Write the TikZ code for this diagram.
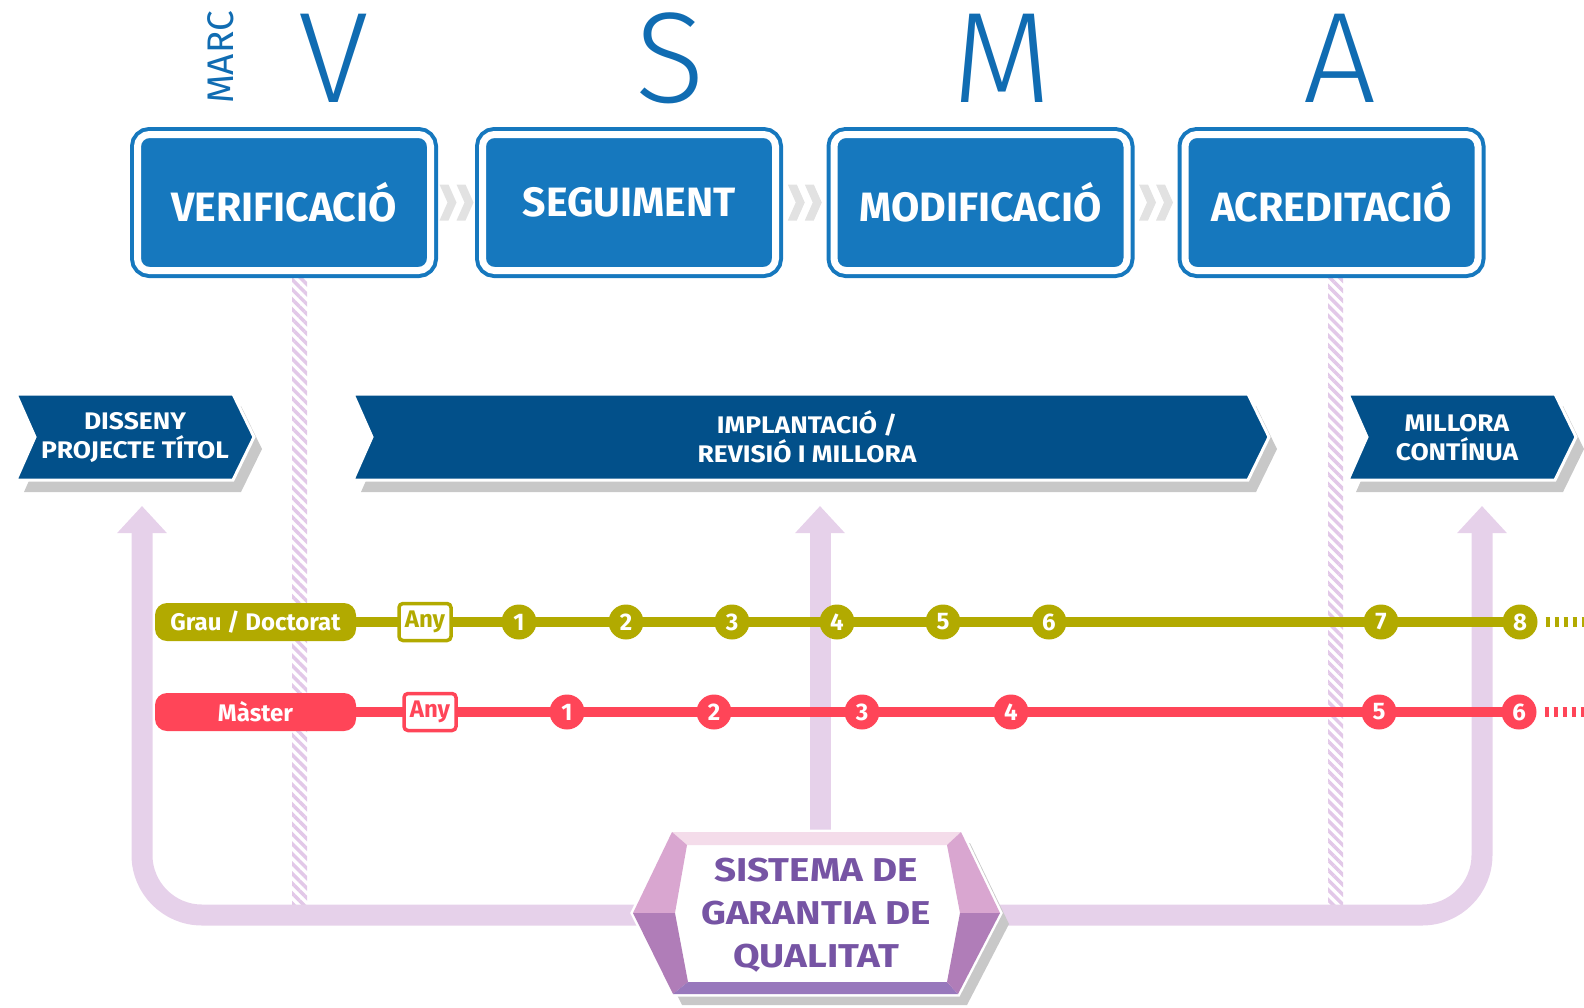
\documentclass[tikz,border=0pt]{standalone}
\usepackage{fontspec}
\setmainfont{Fira Sans}
\newfontfamily\thinfont{Fira Sans Light}
\newfontfamily\widefont{Fira Sans}[FakeStretch=1.1]
\newfontfamily\widerfont{Fira Sans}[FakeStretch=1.17]
\usetikzlibrary{positioning, arrows.meta, patterns.meta, calc}
\definecolor{boxblue}{RGB}{22,120,190}
\definecolor{letterblue}{RGB}{16,108,178}
\definecolor{bannerblue}{RGB}{2,80,138}
\definecolor{grauolive}{RGB}{178,170,0}
\definecolor{masterred}{RGB}{255,69,88}
\definecolor{lilac}{RGB}{230,209,234}
\definecolor{hatchlilac}{RGB}{226,200,232}
\definecolor{sgqpurple}{RGB}{118,84,164}
\definecolor{shadowgray}{RGB}{200,200,200}
\definecolor{chevgray}{RGB}{226,226,226}
\definecolor{facetlight}{RGB}{244,220,234}
\definecolor{facetpink}{RGB}{217,166,208}
\definecolor{facetmauve}{RGB}{176,125,184}
\definecolor{facetviolet}{RGB}{152,120,188}
\newcommand{\bannerpath}[2]{(#1,394) -- (#2,394) -- ++(21,43) -- (#2,480) -- (#1,480) -- ++(19,-43) -- cycle}
\tikzset{
  stage/.style={draw=boxblue, fill=boxblue, double=white, double distance=7pt, line width=4pt,
    rounded corners=12pt, minimum width=293pt, minimum height=136pt, inner sep=0pt,
    text=white, font=\fontsize{41}{41}\selectfont\bfseries},
  bigletter/.style={text=letterblue, font=\thinfont\fontsize{129}{129}\selectfont, inner sep=0pt, anchor=base},
  bannertext/.style={text=white, align=center, font=\widefont\fontsize{24}{29}\selectfont\bfseries},
  pill/.style={rounded corners=12pt, minimum width=201pt, minimum height=38pt, inner sep=0pt,
    text=white, font=\fontsize{24}{24}\selectfont\bfseries},
  stop/.style={circle, minimum size=35pt, inner sep=0pt, text=white, font=\fontsize{24}{24}\selectfont\bfseries},
  anybox/.style={draw, fill=white, line width=3.5pt, rounded corners=4pt, minimum width=52pt,
    minimum height=37pt, inner sep=0pt, font=\fontsize{24}{24}\selectfont\bfseries},
  tline/.style={line width=10pt},
  dotline/.style={line width=10pt, dash pattern=on 4pt off 5pt},
  band/.style={draw=lilac, line width=21pt, rounded corners=60pt, -{Triangle[length=27pt, width=48pt]}},
  hatch/.style={pattern={Lines[angle=-45, distance=7pt, line width=3.5pt]}, pattern color=hatchlilac},
  sgqtext/.style={text=sgqpurple, align=center, font=\widerfont\fontsize{33}{43}\selectfont\bfseries},
}

\begin{document}
\begin{tikzpicture}[x=1pt, y=-1pt]
  \useasboundingbox (0,0) rectangle (1584,1007);

  \fill[hatch] (292,278) rectangle (307,905);
  \fill[hatch] (1328,278) rectangle (1343,905);

  \coordinate (sgqL) at (650,915);
  \coordinate (sgqT) at (820,840);
  \coordinate (sgqR) at (985,915);
  \coordinate (tipL) at (142,506);
  \coordinate (tipM) at (820,506);
  \coordinate (tipR) at (1482,506);
  \draw[band] (sgqL) -| (tipL);
  \draw[band] (sgqT) -- (tipM);
  \draw[band] (sgqR) -| (tipR);

  \foreach \a/\b in {16/233, 353/1248, 1348/1555} {
    \fill[shadowgray, shift={(8,12)}] \bannerpath{\a}{\b};
    \filldraw[fill=bannerblue, draw=white, line width=3pt] \bannerpath{\a}{\b};
  }
  \node[bannertext] (disseny) at (135,437) {DISSENY\\PROJECTE TÍTOL};
  \node[bannertext] (implant) at (807,437) {IMPLANTACIÓ /\\REVISIÓ I MILLORA};
  \node[bannertext] (millora) at (1457,438) {MILLORA\\CONTÍNUA};

  \node[pill, fill=grauolive] (grau) at (255.5,622) {Grau / Doctorat};
  \node[pill, fill=masterred] (master) at (255.5,712) {Màster};
  \coordinate (gend) at (1520,622);
  \coordinate (mend) at (1519,712);
  \coordinate (gmore) at (1584,622);
  \coordinate (mmore) at (1584,712);
  \draw[tline, grauolive] (grau.east) -- (gend);
  \draw[tline, masterred] (master.east) -- (mend);
  \node[anybox, draw=grauolive, text=grauolive] (gany) at (425,622) {Any};
  \node[anybox, draw=masterred, text=masterred] (many) at (430,712) {Any};
  \foreach \n/\x in {1/519, 2/626, 3/732, 4/837, 5/943, 6/1049, 7/1381, 8/1520}
    \node[stop, fill=grauolive] (g\n) at (\x,622) {\n};
  \foreach \n/\x in {1/567, 2/714, 3/862, 4/1011, 5/1379, 6/1519}
    \node[stop, fill=masterred] (m\n) at (\x,712) {\n};
  \draw[dotline, grauolive] ([xshift=8pt]g8.east) -- (gmore);
  \draw[dotline, masterred] ([xshift=8pt]m6.east) -- (mmore);

  \fill[shadowgray, shift={(9,11)}] (672,832) -- (961,832) -- (1000,913) -- (958,994) -- (673,994) -- (633,913) -- cycle;
  \filldraw[fill=white, draw=white, line width=5pt] (672,832) -- (961,832) -- (1000,913) -- (958,994) -- (673,994) -- (633,913) -- cycle;
  \fill[facetlight] (672,832) -- (961,832) -- (947,845) -- (687,845) -- cycle;
  \fill[facetpink] (672,832) -- (633,913) -- (675,913) -- (687,845) -- cycle;
  \fill[facetmauve] (633,913) -- (673,994) -- (688,982) -- (675,913) -- cycle;
  \fill[facetviolet] (673,994) -- (958,994) -- (947,982) -- (688,982) -- cycle;
  \fill[facetpink] (961,832) -- (1000,913) -- (960,913) -- (947,845) -- cycle;
  \fill[facetmauve] (1000,913) -- (958,994) -- (947,982) -- (960,913) -- cycle;
  \node[sgqtext] (sgq) at (816,915) {SISTEMA DE\\GARANTIA DE\\QUALITAT};

  \node[stage] (verif) at (284,202.5) {VERIFICACIÓ};
  \node[stage] (segui) at (629,202.5) {SEGUIMENT};
  \node[stage] (modif) at (980.5,202.5) {MODIFICACIÓ};
  \node[stage] (acred) at (1331.5,202.5) {ACREDITACIÓ};
  \foreach \a/\b in {verif/segui, segui/modif, modif/acred} {
    \coordinate (mid) at ($(\a.east)!0.5!(\b.west)$);
    \foreach \s in {-17,0}
      \fill[chevgray] ([shift={(\s,-18)}]mid) -- ++(9,0) -- ++(8,18) -- ++(-8,18) -- ++(-9,0) -- ++(8,-18) -- cycle;
  }

  \node[bigletter] (lv) at (334,102) {V};
  \node[bigletter] (ls) at (670,102) {S};
  \node[bigletter] (lm) at (1002,102) {M};
  \node[bigletter] (la) at (1340,102) {A};
  \node[text=letterblue, rotate=90, font=\fontsize{37}{37}\selectfont] (marc) at (221,57.5) {MARC};
\end{tikzpicture}
\end{document}
